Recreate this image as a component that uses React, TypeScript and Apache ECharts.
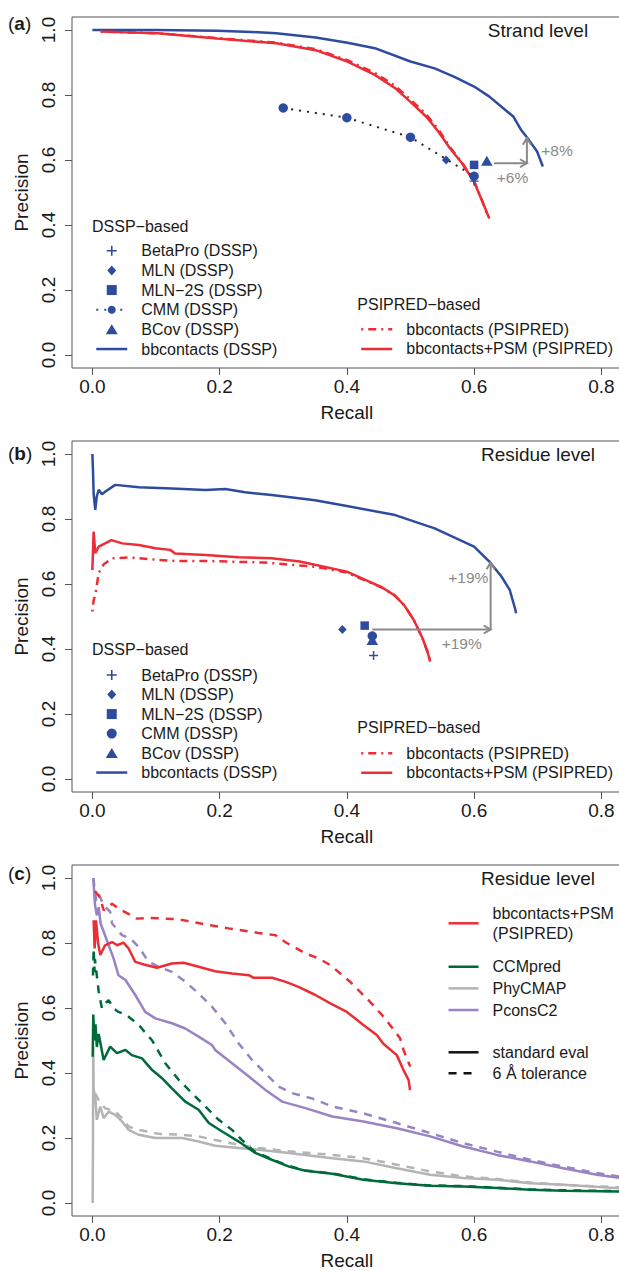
import React, { useEffect, useRef } from 'react';
import * as echarts from 'echarts';

// ---------- ticks ----------
const xTicks = [0, 0.2, 0.4, 0.6, 0.8];
const yTicks = [0, 0.2, 0.4, 0.6, 0.8, 1.0];

// ---------- panel (a) strand level ----------
const aBbDSSP = [[0, 1.0], [0.1, 1.0], [0.196, 0.998], [0.25, 0.994], [0.289, 0.99], [0.351, 0.977], [0.401, 0.961], [0.444, 0.944], [0.5, 0.903], [0.538, 0.882], [0.569, 0.856], [0.6, 0.826], [0.624, 0.795], [0.643, 0.764], [0.662, 0.733], [0.674, 0.692], [0.686, 0.662], [0.699, 0.626], [0.708, 0.58]];
const aBbPSIPRED = [[0.013, 0.995], [0.103, 0.99], [0.196, 0.975], [0.289, 0.961], [0.351, 0.941], [0.401, 0.907], [0.444, 0.868], [0.476, 0.828], [0.5, 0.786], [0.525, 0.74], [0.544, 0.694], [0.562, 0.64], [0.581, 0.592], [0.6, 0.535], [0.612, 0.478], [0.622, 0.425]];
const aBbPSM = [[0.013, 0.995], [0.103, 0.99], [0.196, 0.974], [0.289, 0.959], [0.351, 0.938], [0.401, 0.903], [0.444, 0.862], [0.476, 0.821], [0.5, 0.779], [0.525, 0.733], [0.544, 0.687], [0.562, 0.636], [0.581, 0.59], [0.6, 0.533], [0.612, 0.477], [0.624, 0.42]];
const aBetaPro = [[0.6, 0.535]];
const aMLN = [[0.556, 0.6]];
const aMLN2S = [[0.6, 0.585]];
const aCMM = [[0.3, 0.76], [0.4, 0.73], [0.5, 0.67], [0.6, 0.55]];
const aBCov = [[0.62, 0.598]];
const aArrows = [[0.631, 0.59, 0.683, 0.59], [0.683, 0.59, 0.683, 0.668]];

// ---------- panel (b) residue level ----------
const bBbDSSP = [[0, 1.0], [0.001, 0.95], [0.002, 0.877], [0.0046, 0.828], [0.007, 0.87], [0.01, 0.89], [0.015, 0.876], [0.02, 0.884], [0.036, 0.905], [0.073, 0.898], [0.125, 0.894], [0.178, 0.889], [0.209, 0.892], [0.24, 0.882], [0.282, 0.874], [0.35, 0.858], [0.4, 0.84], [0.476, 0.812], [0.538, 0.771], [0.6, 0.715], [0.624, 0.669], [0.643, 0.623], [0.656, 0.582], [0.665, 0.52], [0.666, 0.51]];
const bBbPSIPRED = [[0, 0.515], [0.002, 0.55], [0.0046, 0.566], [0.01, 0.634], [0.018, 0.661], [0.031, 0.679], [0.057, 0.682], [0.099, 0.675], [0.13, 0.671], [0.178, 0.671], [0.23, 0.668], [0.272, 0.666], [0.351, 0.653], [0.4, 0.635], [0.43, 0.61], [0.455, 0.589], [0.475, 0.565], [0.49, 0.535], [0.505, 0.49], [0.519, 0.433], [0.527, 0.39], [0.531, 0.361]];
const bBbPSM = [[0, 0.643], [0.002, 0.761], [0.0046, 0.695], [0.01, 0.715], [0.02, 0.725], [0.03, 0.735], [0.047, 0.725], [0.073, 0.72], [0.099, 0.71], [0.1225, 0.705], [0.13, 0.694], [0.178, 0.689], [0.23, 0.682], [0.282, 0.679], [0.326, 0.669], [0.4, 0.638], [0.43, 0.612], [0.455, 0.59], [0.475, 0.565], [0.49, 0.535], [0.505, 0.49], [0.519, 0.433], [0.527, 0.39], [0.531, 0.361]];
const bBetaPro = [[0.442, 0.38]];
const bMLN = [[0.393, 0.46]];
const bMLN2S = [[0.428, 0.472]];
const bCMM = [[0.44, 0.44]];
const bBCov = [[0.44, 0.428]];
const bArrows = [[0.44, 0.46, 0.626, 0.46], [0.626, 0.46, 0.626, 0.667]];

// ---------- panel (c) residue level, contact predictors ----------
const cPsmStd = [[0.002, 0.87], [0.0036, 0.783], [0.0057, 0.87], [0.009, 0.8], [0.0125, 0.763], [0.02, 0.793], [0.031, 0.803], [0.039, 0.793], [0.049, 0.801], [0.057, 0.783], [0.0675, 0.742], [0.081, 0.734], [0.1015, 0.724], [0.125, 0.737], [0.1435, 0.739], [0.167, 0.727], [0.193, 0.713], [0.2195, 0.706], [0.246, 0.701], [0.2536, 0.693], [0.2824, 0.693], [0.303, 0.681], [0.324, 0.665], [0.3505, 0.64], [0.374, 0.614], [0.4, 0.588], [0.426, 0.548], [0.447, 0.517], [0.457, 0.491], [0.4785, 0.455], [0.489, 0.409], [0.497, 0.379], [0.4994, 0.347]];
const cPsmTol = [[0.004, 0.96], [0.012, 0.94], [0.0177, 0.901], [0.031, 0.921], [0.041, 0.906], [0.07, 0.875], [0.091, 0.877], [0.136, 0.873], [0.178, 0.857], [0.214, 0.845], [0.261, 0.831], [0.288, 0.824], [0.303, 0.803], [0.335, 0.768], [0.356, 0.752], [0.374, 0.732], [0.405, 0.681], [0.4365, 0.619], [0.46, 0.568], [0.4836, 0.507], [0.489, 0.471], [0.4985, 0.425], [0.5, 0.42]];
const cCcmStd = [[0.0005, 0.45], [0.0015, 0.58], [0.003, 0.5], [0.005, 0.55], [0.007, 0.48], [0.01, 0.52], [0.0177, 0.44], [0.028, 0.481], [0.0387, 0.461], [0.052, 0.471], [0.062, 0.455], [0.078, 0.445], [0.094, 0.409], [0.1095, 0.384], [0.125, 0.353], [0.146, 0.312], [0.167, 0.287], [0.183, 0.246], [0.204, 0.22], [0.23, 0.189], [0.256, 0.154], [0.282, 0.133], [0.309, 0.112], [0.335, 0.099], [0.377, 0.09], [0.426, 0.0716], [0.4785, 0.061], [0.531, 0.053], [0.583, 0.051], [0.636, 0.046], [0.688, 0.041], [0.74, 0.038], [0.84, 0.035]];
const cCcmTol = [[0.001, 0.7], [0.002, 0.783], [0.0036, 0.71], [0.004, 0.75], [0.01, 0.65], [0.015, 0.599], [0.02, 0.614], [0.0256, 0.624], [0.0335, 0.599], [0.041, 0.588], [0.054, 0.578], [0.0728, 0.548], [0.094, 0.5], [0.1146, 0.43], [0.1357, 0.379], [0.1566, 0.338], [0.1775, 0.297], [0.1986, 0.256], [0.2195, 0.225], [0.235, 0.194], [0.246, 0.174], [0.256, 0.157], [0.282, 0.135], [0.309, 0.114], [0.335, 0.1], [0.377, 0.091], [0.426, 0.073], [0.4785, 0.062], [0.531, 0.054], [0.583, 0.052], [0.636, 0.047], [0.688, 0.042], [0.74, 0.039], [0.84, 0.036]];
const cPhyStd = [[0.0005, 0.0], [0.001, 0.2], [0.0015, 0.48], [0.002, 0.348], [0.0046, 0.327], [0.007, 0.256], [0.0125, 0.297], [0.0177, 0.261], [0.0256, 0.281], [0.036, 0.271], [0.0466, 0.251], [0.057, 0.225], [0.0728, 0.21], [0.099, 0.2], [0.141, 0.2], [0.167, 0.189], [0.193, 0.176], [0.23, 0.169], [0.2615, 0.164], [0.309, 0.154], [0.377, 0.138], [0.426, 0.128], [0.4785, 0.107], [0.531, 0.087], [0.583, 0.077], [0.636, 0.0716], [0.688, 0.061], [0.74, 0.056], [0.84, 0.044]];
const cPhyTol = [[0.0046, 0.337], [0.0125, 0.307], [0.02, 0.292], [0.036, 0.281], [0.0466, 0.261], [0.057, 0.235], [0.0728, 0.225], [0.104, 0.213], [0.141, 0.21], [0.167, 0.205], [0.193, 0.194], [0.23, 0.179], [0.2615, 0.169], [0.309, 0.159], [0.377, 0.148], [0.426, 0.138], [0.4785, 0.118], [0.531, 0.097], [0.583, 0.082], [0.636, 0.074], [0.688, 0.063], [0.74, 0.056], [0.84, 0.047]];
const cPconsStd = [[0.0015, 1.0], [0.004, 0.92], [0.007, 0.885], [0.01, 0.91], [0.013, 0.86], [0.018, 0.834], [0.0256, 0.793], [0.0335, 0.752], [0.041, 0.701], [0.052, 0.686], [0.0675, 0.64], [0.083, 0.588], [0.099, 0.568], [0.125, 0.553], [0.146, 0.537], [0.167, 0.512], [0.188, 0.486], [0.193, 0.471], [0.2195, 0.43], [0.246, 0.389], [0.272, 0.348], [0.298, 0.312], [0.335, 0.292], [0.377, 0.266], [0.426, 0.251], [0.4785, 0.23], [0.531, 0.205], [0.583, 0.174], [0.636, 0.148], [0.688, 0.128], [0.74, 0.107], [0.793, 0.087], [0.84, 0.074]];
const cPconsTol = [[0.0015, 1.0], [0.006, 0.93], [0.01, 0.95], [0.018, 0.916], [0.028, 0.896], [0.031, 0.86], [0.0466, 0.824], [0.0597, 0.814], [0.0728, 0.788], [0.0885, 0.742], [0.104, 0.727], [0.125, 0.711], [0.146, 0.681], [0.167, 0.645], [0.188, 0.604], [0.209, 0.553], [0.23, 0.491], [0.251, 0.44], [0.272, 0.399], [0.293, 0.358], [0.314, 0.338], [0.345, 0.322], [0.377, 0.297], [0.426, 0.276], [0.4785, 0.246], [0.531, 0.215], [0.583, 0.184], [0.636, 0.158], [0.688, 0.133], [0.74, 0.112], [0.793, 0.092], [0.84, 0.078]];

// ---------- styles ----------
const BLUE = '#2E4C9E';
const RED = '#EC2D35';
const GREEN = '#006B3A';
const GRAY = '#B4B4B4';
const PURPLE = '#9883C4';
const ANNO = '#8a8a8a';
const TXT = '#1a1a1a';
const BOX = '#555555';
const FONT = '"Liberation Sans", Arial, Helvetica, sans-serif';
const PLUS = 'path://M4.2,0h1.6v4.2h4.2v1.6h-4.2v4.2h-1.6v-4.2h-4.2v-1.6h4.2z';
const ICON_DIAMOND = 'path://M4,0L8,4.5L4,9L0,4.5Z';
const ICON_RECT = 'path://M0,0H10V10H0Z';
const ICON_TRI = 'path://M6,0L12,10H0Z';
const DOTDASH = [2, 5, 8, 5];
const DASH = [8, 7];

const GRID_TOPS = [17, 441, 865];

function line(name: string, data: number[][], g: number, color: string, type: any = 'solid', width = 2.5, z = 2) {
  return {
    type: 'line', name, data, xAxisIndex: g, yAxisIndex: g, symbol: 'none', silent: true, z,
    lineStyle: { color, width, type }, itemStyle: { color },
  };
}
function pts(name: string, data: number[][], g: number, symbol: string, size: any) {
  return {
    type: 'scatter', name, data, xAxisIndex: g, yAxisIndex: g, symbol, symbolSize: size, silent: true, z: 5,
    itemStyle: { color: BLUE, opacity: 1 },
  };
}
function arrows(data: number[][], g: number) {
  return {
    type: 'custom', data, xAxisIndex: g, yAxisIndex: g, silent: true, z: 4,
    encode: { x: [0, 2], y: [1, 3] },
    renderItem: (_p: any, api: any) => {
      const p1 = api.coord([api.value(0), api.value(1)]);
      const p2 = api.coord([api.value(2), api.value(3)]);
      const ang = Math.atan2(p2[1] - p1[1], p2[0] - p1[0]);
      const L = 8, a = Math.PI / 6;
      const h1 = [p2[0] - L * Math.cos(ang - a), p2[1] - L * Math.sin(ang - a)];
      const h2 = [p2[0] - L * Math.cos(ang + a), p2[1] - L * Math.sin(ang + a)];
      return {
        type: 'group',
        children: [
          { type: 'line', shape: { x1: p1[0], y1: p1[1], x2: p2[0], y2: p2[1] }, style: { stroke: ANNO, lineWidth: 2 } },
          { type: 'polyline', shape: { points: [h1, p2, h2] }, style: { stroke: ANNO, lineWidth: 2, fill: 'none' } },
        ],
      };
    },
  };
}

function legend(left: number, top: number, rowH: number, itemWidth: number, data: any[], fmt: (n: string) => string) {
  return {
    orient: 'vertical', left, top, padding: 0, itemGap: 0, itemWidth, itemHeight: 10,
    selectedMode: false, symbolKeepAspect: true,
    lineStyle: { width: 2.5 },
    textStyle: { fontSize: 16, color: TXT, fontFamily: FONT, lineHeight: rowH, padding: [0, 0, 0, 9] },
    formatter: fmt,
    data,
  };
}

function text(t: string, x: number, y: number, size: number, color = TXT, align = 'left') {
  return { type: 'text', x, y, silent: true, style: { text: t, fontSize: size, fill: color, fontFamily: FONT, align, verticalAlign: 'middle' } };
}
function panelLabel(letter: string, y: number) {
  return {
    type: 'text', x: 8, y, silent: true,
    style: {
      text: '{p|(}{b|' + letter + '}{p|)}', verticalAlign: 'middle', fontFamily: FONT, fill: TXT,
      rich: { p: { fontSize: 19, fontFamily: FONT, fill: TXT }, b: { fontSize: 19, fontWeight: 'bold', fontFamily: FONT, fill: TXT } },
    },
  };
}

const strip = (n: string) => n.slice(2);

export default function App() {
  const ref = useRef<HTMLDivElement>(null);
  useEffect(() => {
    const chart = echarts.init(ref.current as HTMLDivElement, null, { renderer: 'svg' });
    const grids = GRID_TOPS.map((t) => ({ left: 72, top: t, width: 549.7, height: 351, show: true, borderColor: BOX, borderWidth: 1, backgroundColor: 'transparent' }));
    const xAxes = GRID_TOPS.map((_t, i) => ({
      type: 'value', gridIndex: i, min: -0.032, max: 0.832,
      axisLine: { show: false, onZero: false },
      axisTick: { show: true, customValues: xTicks, length: 7, lineStyle: { color: BOX, width: 1 } },
      axisLabel: { customValues: xTicks, formatter: (v: number) => v.toFixed(1), fontSize: 19, color: TXT, fontFamily: FONT, margin: 9 },
      splitLine: { show: false },
      name: 'Recall', nameLocation: 'middle', nameGap: 35, nameTextStyle: { fontSize: 19, color: TXT, fontFamily: FONT },
    }));
    const yAxes = GRID_TOPS.map((_t, i) => ({
      type: 'value', gridIndex: i, min: -0.04, max: 1.04,
      axisLine: { show: false, onZero: false },
      axisTick: { show: true, customValues: yTicks, length: 7, lineStyle: { color: BOX, width: 1 } },
      axisLabel: { customValues: yTicks, formatter: (v: number) => v.toFixed(1), fontSize: 19, color: TXT, fontFamily: FONT, rotate: 90, margin: 14 },
      splitLine: { show: false },
      name: 'Precision', nameLocation: 'middle', nameGap: 41, nameTextStyle: { fontSize: 19, color: TXT, fontFamily: FONT },
    }));

    const series: any[] = [
      // panel a
      line('a:bbcontacts (DSSP)', aBbDSSP, 0, BLUE),
      line('a:bbcontacts (PSIPRED)', aBbPSIPRED, 0, RED, DOTDASH),
      line('a:bbcontacts+PSM (PSIPRED)', aBbPSM, 0, RED),
      {
        type: 'line', name: 'a:CMM (DSSP)', data: aCMM, xAxisIndex: 0, yAxisIndex: 0, silent: true, z: 5,
        symbol: 'circle', symbolSize: 9.5, showSymbol: true,
        lineStyle: { color: '#222', width: 2, type: [2, 6] }, itemStyle: { color: BLUE },
      },
      pts('a:BetaPro (DSSP)', aBetaPro, 0, PLUS, 9),
      pts('a:MLN (DSSP)', aMLN, 0, 'diamond', [8.5, 9]),
      pts('a:MLN−2S (DSSP)', aMLN2S, 0, 'rect', 8.5),
      pts('a:BCov (DSSP)', aBCov, 0, 'triangle', [11.5, 10]),
      arrows(aArrows, 0),
      // panel b
      line('b:bbcontacts (DSSP)', bBbDSSP, 1, BLUE),
      line('b:bbcontacts (PSIPRED)', bBbPSIPRED, 1, RED, DOTDASH),
      line('b:bbcontacts+PSM (PSIPRED)', bBbPSM, 1, RED),
      pts('b:BetaPro (DSSP)', bBetaPro, 1, PLUS, 9),
      pts('b:MLN (DSSP)', bMLN, 1, 'diamond', [8.5, 9]),
      pts('b:MLN−2S (DSSP)', bMLN2S, 1, 'rect', 8.5),
      pts('b:CMM (DSSP)', bCMM, 1, 'circle', 9.5),
      pts('b:BCov (DSSP)', bBCov, 1, 'triangle', [11.5, 10]),
      arrows(bArrows, 1),
      // panel c
      line('c:PhyCMAP tol', cPhyTol, 2, GRAY, DASH),
      line('c:PhyCMAP', cPhyStd, 2, GRAY),
      line('c:CCMpred tol', cCcmTol, 2, GREEN, DASH),
      line('c:CCMpred', cCcmStd, 2, GREEN),
      line('c:PconsC2 tol', cPconsTol, 2, PURPLE, DASH),
      line('c:PconsC2', cPconsStd, 2, PURPLE),
      line('c:bbcontacts+PSM tol', cPsmTol, 2, RED, DASH),
      line('c:bbcontacts+PSM (PSIPRED)', cPsmStd, 2, RED),
      line('c:standard eval', [], 2, '#111'),
      line('c:6 Å tolerance', [], 2, '#111', DASH),
    ];

    const hideSym = { opacity: 0 };
    const dsspData = (p: string, cmmLine: boolean) => [
      { name: p + 'BetaPro (DSSP)', icon: PLUS },
      { name: p + 'MLN (DSSP)', icon: ICON_DIAMOND },
      { name: p + 'MLN−2S (DSSP)', icon: ICON_RECT },
      cmmLine ? { name: p + 'CMM (DSSP)', lineStyle: { color: BLUE, width: 2 } } : { name: p + 'CMM (DSSP)', icon: 'circle' },
      { name: p + 'BCov (DSSP)', icon: ICON_TRI },
      { name: p + 'bbcontacts (DSSP)', itemStyle: hideSym },
    ];
    const psiData = (p: string) => [
      { name: p + 'bbcontacts (PSIPRED)', itemStyle: hideSym },
      { name: p + 'bbcontacts+PSM (PSIPRED)', itemStyle: hideSym },
    ];

    const legends = [
      legend(95, 240.9, 19.66, 31, dsspData('a:', true), strip),
      legend(360, 319.5, 19.66, 31, psiData('a:'), strip),
      legend(95, 665.3, 19.5, 31, dsspData('b:', false), strip),
      legend(360, 743.5, 19.5, 31, psiData('b:'), strip),
      legend(447.3, 903, 20.3, 30, [{ name: 'c:bbcontacts+PSM (PSIPRED)', itemStyle: hideSym }], () => 'bbcontacts+PSM\n(PSIPRED)'),
      legend(447.3, 955.9, 21.65, 30, [
        { name: 'c:CCMpred', itemStyle: hideSym },
        { name: 'c:PhyCMAP', itemStyle: hideSym },
        { name: 'c:PconsC2', itemStyle: hideSym },
      ], strip),
      legend(447.3, 1041.8, 21, 30, [
        { name: 'c:standard eval', itemStyle: hideSym },
        { name: 'c:6 Å tolerance', itemStyle: hideSym },
      ], strip),
    ];

    const graphics = [
      panelLabel('a', 23),
      panelLabel('b', 453),
      panelLabel('c', 873),
      text('Strand level', 538, 30.7, 19, TXT, 'center'),
      text('Residue level', 538, 454.3, 19, TXT, 'center'),
      text('Residue level', 538, 878.3, 19, TXT, 'center'),
      text('DSSP−based', 92, 226, 16),
      text('PSIPRED−based', 357.3, 304, 16),
      text('DSSP−based', 92, 649.3, 16),
      text('PSIPRED−based', 357.3, 727.3, 16),
      text('+8%', 557, 150, 15.5, ANNO, 'center'),
      text('+6%', 512.5, 177, 15.5, ANNO, 'center'),
      text('+19%', 468.3, 577.5, 15.5, ANNO, 'center'),
      text('+19%', 461.7, 643.3, 15.5, ANNO, 'center'),
    ];

    chart.setOption({
      animation: false,
      backgroundColor: '#ffffff',
      textStyle: { fontFamily: FONT },
      grid: grids,
      xAxis: xAxes,
      yAxis: yAxes,
      legend: legends,
      series,
      graphic: graphics,
    });
    return () => chart.dispose();
  }, []);
  return (
    <div style={{ position: 'fixed', left: 0, top: 0, width: 619, height: 1271, overflow: 'hidden', background: '#fff' }}>
      <div ref={ref} style={{ width: 640, height: 1271 }} />
    </div>
  );
}
